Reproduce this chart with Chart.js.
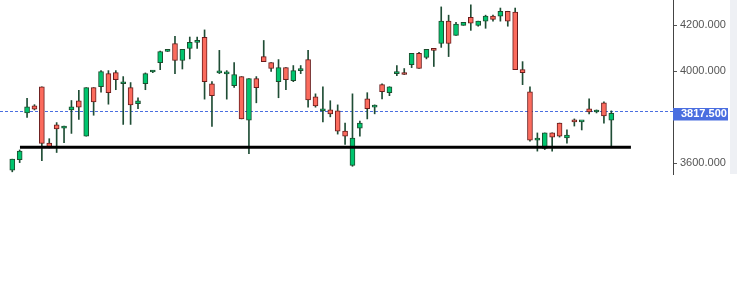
<!DOCTYPE html>
<html><head><meta charset="utf-8">
<script src="https://cdn.jsdelivr.net/npm/chart.js@4.4.1/dist/chart.umd.min.js"></script>
<style>html,body{margin:0;padding:0;background:#fff;overflow:hidden}canvas{display:block}</style>
</head><body><canvas id="c" width="737" height="283"></canvas>
<script>
const opens  = [3570,3616,3819,3850,3933,3688,3767,3753,3832,3872,3718,3929,3933,3990,3994,3946,3929,3859,3946,3997,4038,4086,4121,4047,4099,4126,4148,3946,3993,3989,3937,3977,3788,3968,4064,4038,3955,4016,3959,4003,4051,3889,3828,3832,3828,3740,3591,3753,3880,3844,3942,3907,3990,3990,4029,4078,4060,4095,4121,4218,4156,4200,4235,4200,4218,4240,4240,4261,4257,4007,3911,3701,3665,3732,3775,3710,3784,3780,3837,3823,3863,3788];
const highs  = [3618,3658,3882,3855,3933,3707,3777,3762,3873,3917,3929,3929,4003,4003,4003,3977,3951,3885,3993,4003,4088,4095,4152,4095,4149,4149,4180,3955,4091,4003,4038,3977,3968,3977,4134,4038,4051,4016,4025,4025,4091,3902,3933,3872,3854,3775,3902,3784,3907,3854,3946,3933,4025,4012,4078,4082,4095,4095,4280,4244,4213,4213,4289,4218,4244,4244,4275,4261,4275,4042,3933,3732,3732,3732,3775,3745,3793,3784,3880,3832,3867,3828];
const lows   = [3563,3603,3800,3832,3611,3667,3647,3690,3730,3791,3718,3809,3909,3857,3920,3769,3769,3837,3920,3994,4007,4086,3990,4010,4054,4099,3879,3760,3990,3879,3930,3793,3642,3863,4042,3999,3885,3920,3955,3990,3844,3844,3780,3802,3727,3682,3587,3718,3793,3815,3880,3894,3981,3986,4016,4012,4054,4021,4104,4064,4156,4200,4178,4196,4187,4218,4218,4196,4007,3942,3696,3653,3660,3653,3714,3688,3762,3745,3815,3819,3775,3671];
const closes = [3618,3653,3845,3835,3686,3668,3749,3762,3845,3844,3929,3867,3999,3907,3964,3950,3854,3872,3990,4003,4086,4095,4047,4095,4126,4134,3955,3894,3995,3991,3986,3793,3968,3929,4042,4012,4016,3964,4003,4012,3876,3850,3837,3815,3740,3718,3710,3775,3837,3846,3911,3933,3999,3986,4078,4012,4095,4091,4218,4121,4205,4213,4209,4218,4240,4226,4261,4218,4007,3994,3701,3710,3732,3714,3718,3723,3780,3784,3823,3828,3806,3817.5];
const yTicks = [3600, 4000, 4200];
const supportLevel = 3670;
const supportFrom = 2.04;
const supportTo = 84.65;
const lastPrice = 3817.5;
const days = opens.map((_, i) => i + 1);

const GREEN = '#00c46e', RED = '#fb6b5d', GREEN_EDGE = '#1d4d2e', RED_EDGE = '#6b1c1c', WICK = '#1f4d35';
const isUp = i => closes[i] >= opens[i];

const overlay = {
  id: 'overlay',
  beforeDraw(chart) {
    const {ctx, chartArea} = chart;
    ctx.save();
    ctx.fillStyle = '#eef0f4';
    ctx.fillRect(730, 0, 7, chartArea.bottom);
    ctx.restore();
  },
  beforeDatasetsDraw(chart) {
    const {ctx, chartArea, scales} = chart;
    const y = Math.round(scales.y.getPixelForValue(lastPrice)) - 2 + 0.5;
    ctx.save();
    ctx.strokeStyle = '#4a6ee0';
    ctx.lineWidth = 1;
    ctx.setLineDash([3, 2]);
    ctx.beginPath();
    ctx.moveTo(chartArea.left, y);
    ctx.lineTo(chartArea.right, y);
    ctx.stroke();
    ctx.restore();
  },
  afterDraw(chart) {
    const {ctx, chartArea, scales} = chart;
    const yc = scales.y.getPixelForValue(lastPrice) + 0.5;
    ctx.save();
    ctx.fillStyle = '#4a6ee0';
    ctx.fillRect(chartArea.right, Math.round(yc - 6), 55, 12.5);
    ctx.fillStyle = '#ffffff';
    ctx.font = 'bold 11px "Liberation Sans", Arial, sans-serif';
    ctx.textBaseline = 'middle';
    ctx.textAlign = 'left';
    ctx.fillText(lastPrice.toFixed(3), chartArea.right + 8, yc + 0.5);
    ctx.restore();
  }
};

new Chart(document.getElementById('c'), {
  type: 'bar',
  data: {
    datasets: [
      {
        type: 'line',
        data: [{x: supportFrom, y: supportLevel}, {x: supportTo, y: supportLevel}],
        borderColor: '#000', borderWidth: 3, pointRadius: 0, fill: false, order: -1
      },
      {
        data: days.map((d, i) => ({x: d, y: [opens[i], closes[i]]})),
        backgroundColor: ctx => isUp(ctx.dataIndex) ? GREEN : RED,
        borderColor: ctx => isUp(ctx.dataIndex) ? GREEN_EDGE : RED_EDGE,
        borderWidth: 1, borderSkipped: false, barThickness: 5, minBarLength: 2, grouped: false, order: 0
      },
      {
        data: days.map((d, i) => ({x: d, y: [lows[i], highs[i]]})),
        backgroundColor: WICK, borderWidth: 0, barThickness: 1, grouped: false, order: 1
      }
    ]
  },
  options: {
    responsive: false, animation: false, devicePixelRatio: 1,
    layout: {padding: {left: 0, right: 0, top: 0, bottom: 109}},
    plugins: {legend: {display: false}, tooltip: {enabled: false}},
    scales: {
      x: {type: 'linear', display: false, min: -0.66, max: 90.34, offset: false},
      y: {
        position: 'right', min: 3553.5, max: 4310,
        afterBuildTicks: s => { s.ticks = yTicks.map(v => ({value: v})); },
        afterFit: s => { s.width = 64; s.paddingTop = 0; s.paddingBottom = 0; },
        border: {display: true, color: '#444', width: 1},
        grid: {display: true, drawOnChartArea: false, drawTicks: true, tickLength: 4, color: '#555'},
        ticks: {padding: 3, color: '#555', font: {family: '"Liberation Sans", Arial, sans-serif', size: 11},
                callback: v => Number(v).toFixed(3)}
      }
    }
  },
  plugins: [overlay]
});
</script>
</body></html>
